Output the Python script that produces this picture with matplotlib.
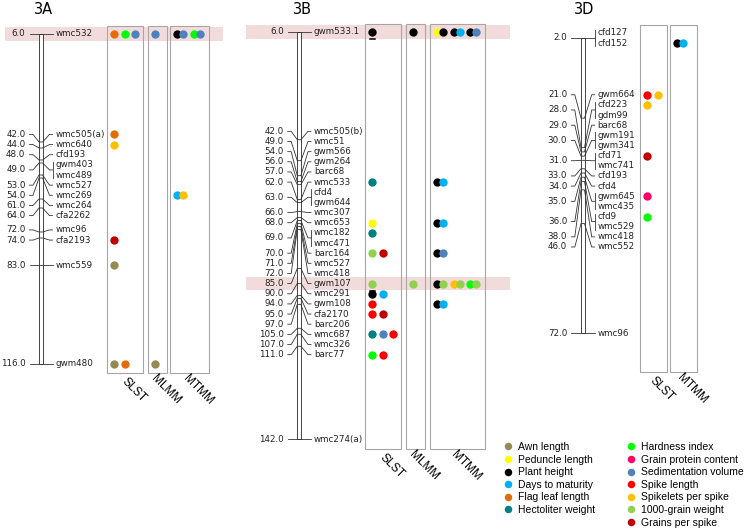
import matplotlib
matplotlib.use("Agg")
import matplotlib.pyplot as plt
from matplotlib.lines import Line2D
from matplotlib.patches import Rectangle

# --- figure size (pixels) ---
W, H = 746, 532
DPI = 100

# --- trait colours (legend order: column 1, then column 2) ---
legend_col1 = ["Awn length", "Peduncle length", "Plant height", "Days to maturity",
               "Flag leaf length", "Hectoliter weight"]
legend_col2 = ["Hardness index", "Grain protein content", "Sedimentation volume",
               "Spike length", "Spikelets per spike", "1000-grain weight", "Grains per spike"]
trait_colors = {
    "Awn length": "#948a54",
    "Peduncle length": "#ffff00",
    "Plant height": "#000000",
    "Days to maturity": "#00b0f0",
    "Flag leaf length": "#e36c09",
    "Hectoliter weight": "#008080",
    "Hardness index": "#00ff00",
    "Grain protein content": "#ff0066",
    "Sedimentation volume": "#4f81bd",
    "Spike length": "#ff0000",
    "Spikelets per spike": "#ffc000",
    "1000-grain weight": "#92d050",
    "Grains per spike": "#c00000",
}

# --- chromosome 3A ---
a_pos = [6.0, 42.0, 44.0, 48.0, 49.0, 53.0, 54.0, 61.0, 64.0, 72.0, 74.0, 83.0, 116.0]
a_names = [["wmc532"], ["wmc505(a)"], ["wmc640"], ["cfd193"], ["gwm403", "wmc489"],
           ["wmc527"], ["wmc269"], ["wmc264"], ["cfa2262"], ["wmc96"], ["cfa2193"],
           ["wmc559"], ["gwm480"]]
a_slst = {"wmc532": [["Flag leaf length"], ["Hardness index"], ["Sedimentation volume"]],
          "wmc505(a)": [["Flag leaf length"]],
          "wmc640": [["Spikelets per spike"]],
          "cfa2193": [["Grains per spike"]],
          "wmc559": [["Awn length"]],
          "gwm480": [["Awn length"], ["Flag leaf length"]]}
a_mlmm = {"wmc532": [["Sedimentation volume"]],
          "gwm480": [["Awn length"]]}
a_mtmm = {"wmc532": [["Plant height", "Sedimentation volume"],
                     ["Hardness index", "Sedimentation volume"]],
          "wmc269": [["Days to maturity", "Spikelets per spike"]]}
a_highlight = ["wmc532"]

# --- chromosome 3B ---
b_pos = [6.0, 42.0, 49.0, 54.0, 56.0, 57.0, 62.0, 63.0, 66.0, 68.0, 69.0, 70.0, 71.0,
         72.0, 85.0, 90.0, 94.0, 95.0, 97.0, 105.0, 107.0, 111.0, 142.0]
b_names = [["gwm533.1"], ["wmc505(b)"], ["wmc51"], ["gwm566"], ["gwm264"], ["barc68"],
           ["wmc533"], ["cfd4", "gwm644"], ["wmc307"], ["wmc653"], ["wmc182", "wmc471"],
           ["barc164"], ["wmc527"], ["wmc418"], ["gwm107"], ["wmc291"], ["gwm108"],
           ["cfa2170"], ["barc206"], ["wmc687"], ["wmc326"], ["barc77"], ["wmc274(a)"]]
b_slst = {"gwm533.1": [["Plant height"]],
          "wmc533": [["Hectoliter weight"]],
          "wmc653": [["Peduncle length"]],
          "wmc182": [["Hectoliter weight"]],
          "barc164": [["1000-grain weight"], ["Grains per spike"]],
          "gwm107": [["1000-grain weight"]],
          "wmc291": [["Plant height"], ["Days to maturity"]],
          "gwm108": [["Spike length"]],
          "cfa2170": [["Spike length"], ["Grains per spike"]],
          "wmc687": [["Hectoliter weight"], ["Sedimentation volume"], ["Spike length"]],
          "barc77": [["Hardness index"], ["Spike length"]]}
b_mlmm = {"gwm533.1": [["Plant height"]],
          "gwm107": [["1000-grain weight"]]}
b_mtmm = {"gwm533.1": [["Peduncle length", "Plant height"], ["Plant height", "Days to maturity"],
                       ["Plant height", "Sedimentation volume"]],
          "wmc533": [["Plant height", "Days to maturity"]],
          "wmc653": [["Plant height", "Days to maturity"]],
          "barc164": [["Plant height", "Sedimentation volume"]],
          "gwm107": [["Plant height", "1000-grain weight"], ["Spikelets per spike", "1000-grain weight"],
                     ["Hardness index", "1000-grain weight"]],
          "gwm108": [["Plant height", "Days to maturity"]]}
b_highlight = ["gwm533.1", "gwm107"]
b_underlined = [("SLST", "gwm533.1"), ("SLST", "gwm107")]

# --- chromosome 3D ---
d_pos = [2.0, 21.0, 28.0, 29.0, 30.0, 31.0, 33.0, 34.0, 35.0, 36.0, 38.0, 46.0, 72.0]
d_names = [["cfd127", "cfd152"], ["gwm664"], ["cfd223", "gdm99"], ["barc68"],
           ["gwm191", "gwm341"], ["cfd71", "wmc741"], ["cfd193"], ["cfd4"],
           ["gwm645", "wmc435"], ["cfd9", "wmc529"], ["wmc418"], ["wmc552"], ["wmc96"]]
d_slst = {"gwm664": [["Spike length"], ["Spikelets per spike"]],
          "cfd223": [["Spikelets per spike"]],
          "cfd71": [["Grains per spike"]],
          "gwm645": [["Grain protein content"]],
          "cfd9": [["Hardness index"]]}
d_mtmm = {"cfd152": [["Plant height", "Days to maturity"]]}

# --- layout (pixels) ---
ROW = 10.15          # label row spacing in px
MAP_FONT = "DejaVu Sans"
SANS = "Liberation Sans"
LINE_C = "#333333"
DOT = 36

panels = [
    dict(title="3A", pos=a_pos, names=a_names, y0=34, c0=6.0, scale=3.0,
         chrom=(39.0, 42.6), lab_end=25.5, name_start=55.5, title_x=43.8,
         methods=[("SLST", a_slst), ("MLMM", a_mlmm), ("MTMM", a_mtmm)],
         boxes=[(107.3, 143.3), (148.3, 167.3), (170.3, 208.7)], box_y=(26, 373),
         band=(5, 223), highlight=a_highlight, underlined=[]),
    dict(title="3B", pos=b_pos, names=b_names, y0=32, c0=6.0, scale=2.993,
         chrom=(297.3, 300.9), lab_end=283.7, name_start=314.0, title_x=302.0,
         methods=[("SLST", b_slst), ("MLMM", b_mlmm), ("MTMM", b_mtmm)],
         boxes=[(365.3, 401.3), (406.3, 425.3), (430.3, 484.7)], box_y=(24, 449),
         band=(246, 510), highlight=b_highlight, underlined=b_underlined),
    dict(title="3D", pos=d_pos, names=d_names, y0=38, c0=2.0, scale=4.218,
         chrom=(581.0, 584.5), lab_end=567.3, name_start=597.7, title_x=584.0,
         methods=[("SLST", d_slst), ("MTMM", d_mtmm)],
         boxes=[(640.3, 667.3), (669.7, 696.7)], box_y=(25.3, 371.7),
         band=None, highlight=[], underlined=[]),
]


def spread_labels(pos, counts, step):
    """Group overlapping labels into clusters; place each cluster centred
    on the midpoint of its first and last marker."""
    clusters = [[i] for i in range(len(pos))]

    def extent(c, centre):
        n = sum(counts[i] for i in c)
        return centre - n * step / 2, centre + n * step / 2

    def mean_centre(c):
        vals = [pos[i] for i in c for _ in range(counts[i])]
        return sum(vals) / len(vals)

    merged = True
    while merged:
        merged = False
        for k in range(len(clusters) - 1):
            c1, c2 = clusters[k], clusters[k + 1]
            if extent(c1, mean_centre(c1))[1] > extent(c2, mean_centre(c2))[0]:
                clusters[k] = c1 + c2
                clusters.pop(k + 1)
                merged = True
                break
    rows = []
    for c in clusters:
        top = extent(c, (pos[c[0]] + pos[c[-1]]) / 2)[0]
        for i in c:
            rows.append([top + (j + 0.5) * step for j in range(counts[i])])
            top += counts[i] * step
    return rows


fig = plt.figure(figsize=(W / DPI, H / DPI), dpi=DPI)

for p in panels:
    sc = p["scale"]
    to_cm = lambda px, p=p: p["c0"] + (px - p["y0"]) / p["scale"]
    ax = fig.add_axes([0, 0, 1, 1])
    ax.set_xlim(0, W)
    ax.set_ylim(to_cm(H), to_cm(0))
    ax.axis("off")
    ax.patch.set_alpha(0)

    step = ROW / sc
    counts = [len(n) for n in p["names"]]
    rows = spread_labels(p["pos"], counts, step)
    name_y = {}
    for names, ys in zip(p["names"], rows):
        for n, y in zip(names, ys):
            name_y[n] = y

    # highlight bands
    if p["band"]:
        bh = 13.3 / sc
        for m in p["highlight"]:
            ax.add_patch(Rectangle((p["band"][0], name_y[m] - bh / 2), p["band"][1] - p["band"][0], bh,
                                   facecolor="#f2dcdb", edgecolor="none", zorder=0))

    # chromosome
    cx0, cx1 = p["chrom"]
    ax.add_patch(Rectangle((cx0, p["pos"][0]), cx1 - cx0, p["pos"][-1] - p["pos"][0],
                           facecolor="white", edgecolor="#444444", lw=0.7, zorder=1))

    # marker leaders and labels
    xl0 = p["lab_end"] + 4
    xl1 = xl0 + 3.5
    xr0 = p["name_start"] - 3
    xr1 = xr0 - 3
    for pos, names, ys in zip(p["pos"], p["names"], rows):
        yc = sum(ys) / len(ys)
        ax.plot([xl0, xl1, cx0, cx1, xr1, xr0], [yc, yc, pos, pos, yc, yc],
                color=LINE_C, lw=0.6, zorder=2)
        if len(names) > 1:
            ax.plot([xr0, xr0], [ys[0] - 3 / sc, ys[-1] + 3 / sc], color=LINE_C, lw=0.6, zorder=2)
        ax.text(p["lab_end"], yc, f"{pos:.1f}", ha="right", va="center",
                fontsize=6.3, family=MAP_FONT, color="#222222")
        for n, y in zip(names, ys):
            ax.text(p["name_start"], y, n, ha="left", va="center",
                    fontsize=6.3, family=MAP_FONT, color="#222222")

    # method boxes with QTL dots
    by0, by1 = p["box_y"]
    for (method, qtl), (bx0, bx1) in zip(p["methods"], p["boxes"]):
        ax.add_patch(Rectangle((bx0, to_cm(by0)), bx1 - bx0, to_cm(by1) - to_cm(by0),
                               facecolor="none", edgecolor="#a6a6a6", lw=0.8, zorder=1))
        for marker, groups in qtl.items():
            y = name_y[marker]
            x = bx0 + 7
            for g in groups:
                for k, trait in enumerate(g):
                    ax.scatter([x + k * 6], [y], s=DOT, color=trait_colors[trait],
                               linewidths=0, zorder=3)
                x += (len(g) - 1) * 6 + 10.3
            if (method, marker) in p["underlined"]:
                xd = bx0 + 7
                ax.plot([xd - 2.5, xd + 2.5], [y + 7 / sc] * 2, color="black", lw=1.1, zorder=3)
        ax.text((bx0 + bx1) / 2 + 8.5, to_cm(by1 + 17), method, rotation=-45,
                rotation_mode="anchor", ha="center", va="center", fontsize=8.5,
                family=SANS, color="black")

    ax.text(p["title_x"], to_cm(10), p["title"], ha="center", va="center",
            fontsize=10.5, family=MAP_FONT, color="black")

# legend in two columns
for col, x_px in [(legend_col1, 502.5), (legend_col2, 625.5)]:
    handles = [Line2D([], [], marker="o", linestyle="", markersize=5.4,
                      markerfacecolor=trait_colors[t], markeredgewidth=0) for t in col]
    fig.legend(handles, col, loc="upper left", bbox_to_anchor=(x_px / W, 1 - 442 / H),
               frameon=False, borderpad=0, borderaxespad=0, handlelength=1.0,
               handletextpad=0.46, labelspacing=0.25,
               prop={"family": SANS, "size": 7.5})

fig.savefig("out.png", dpi=DPI)
